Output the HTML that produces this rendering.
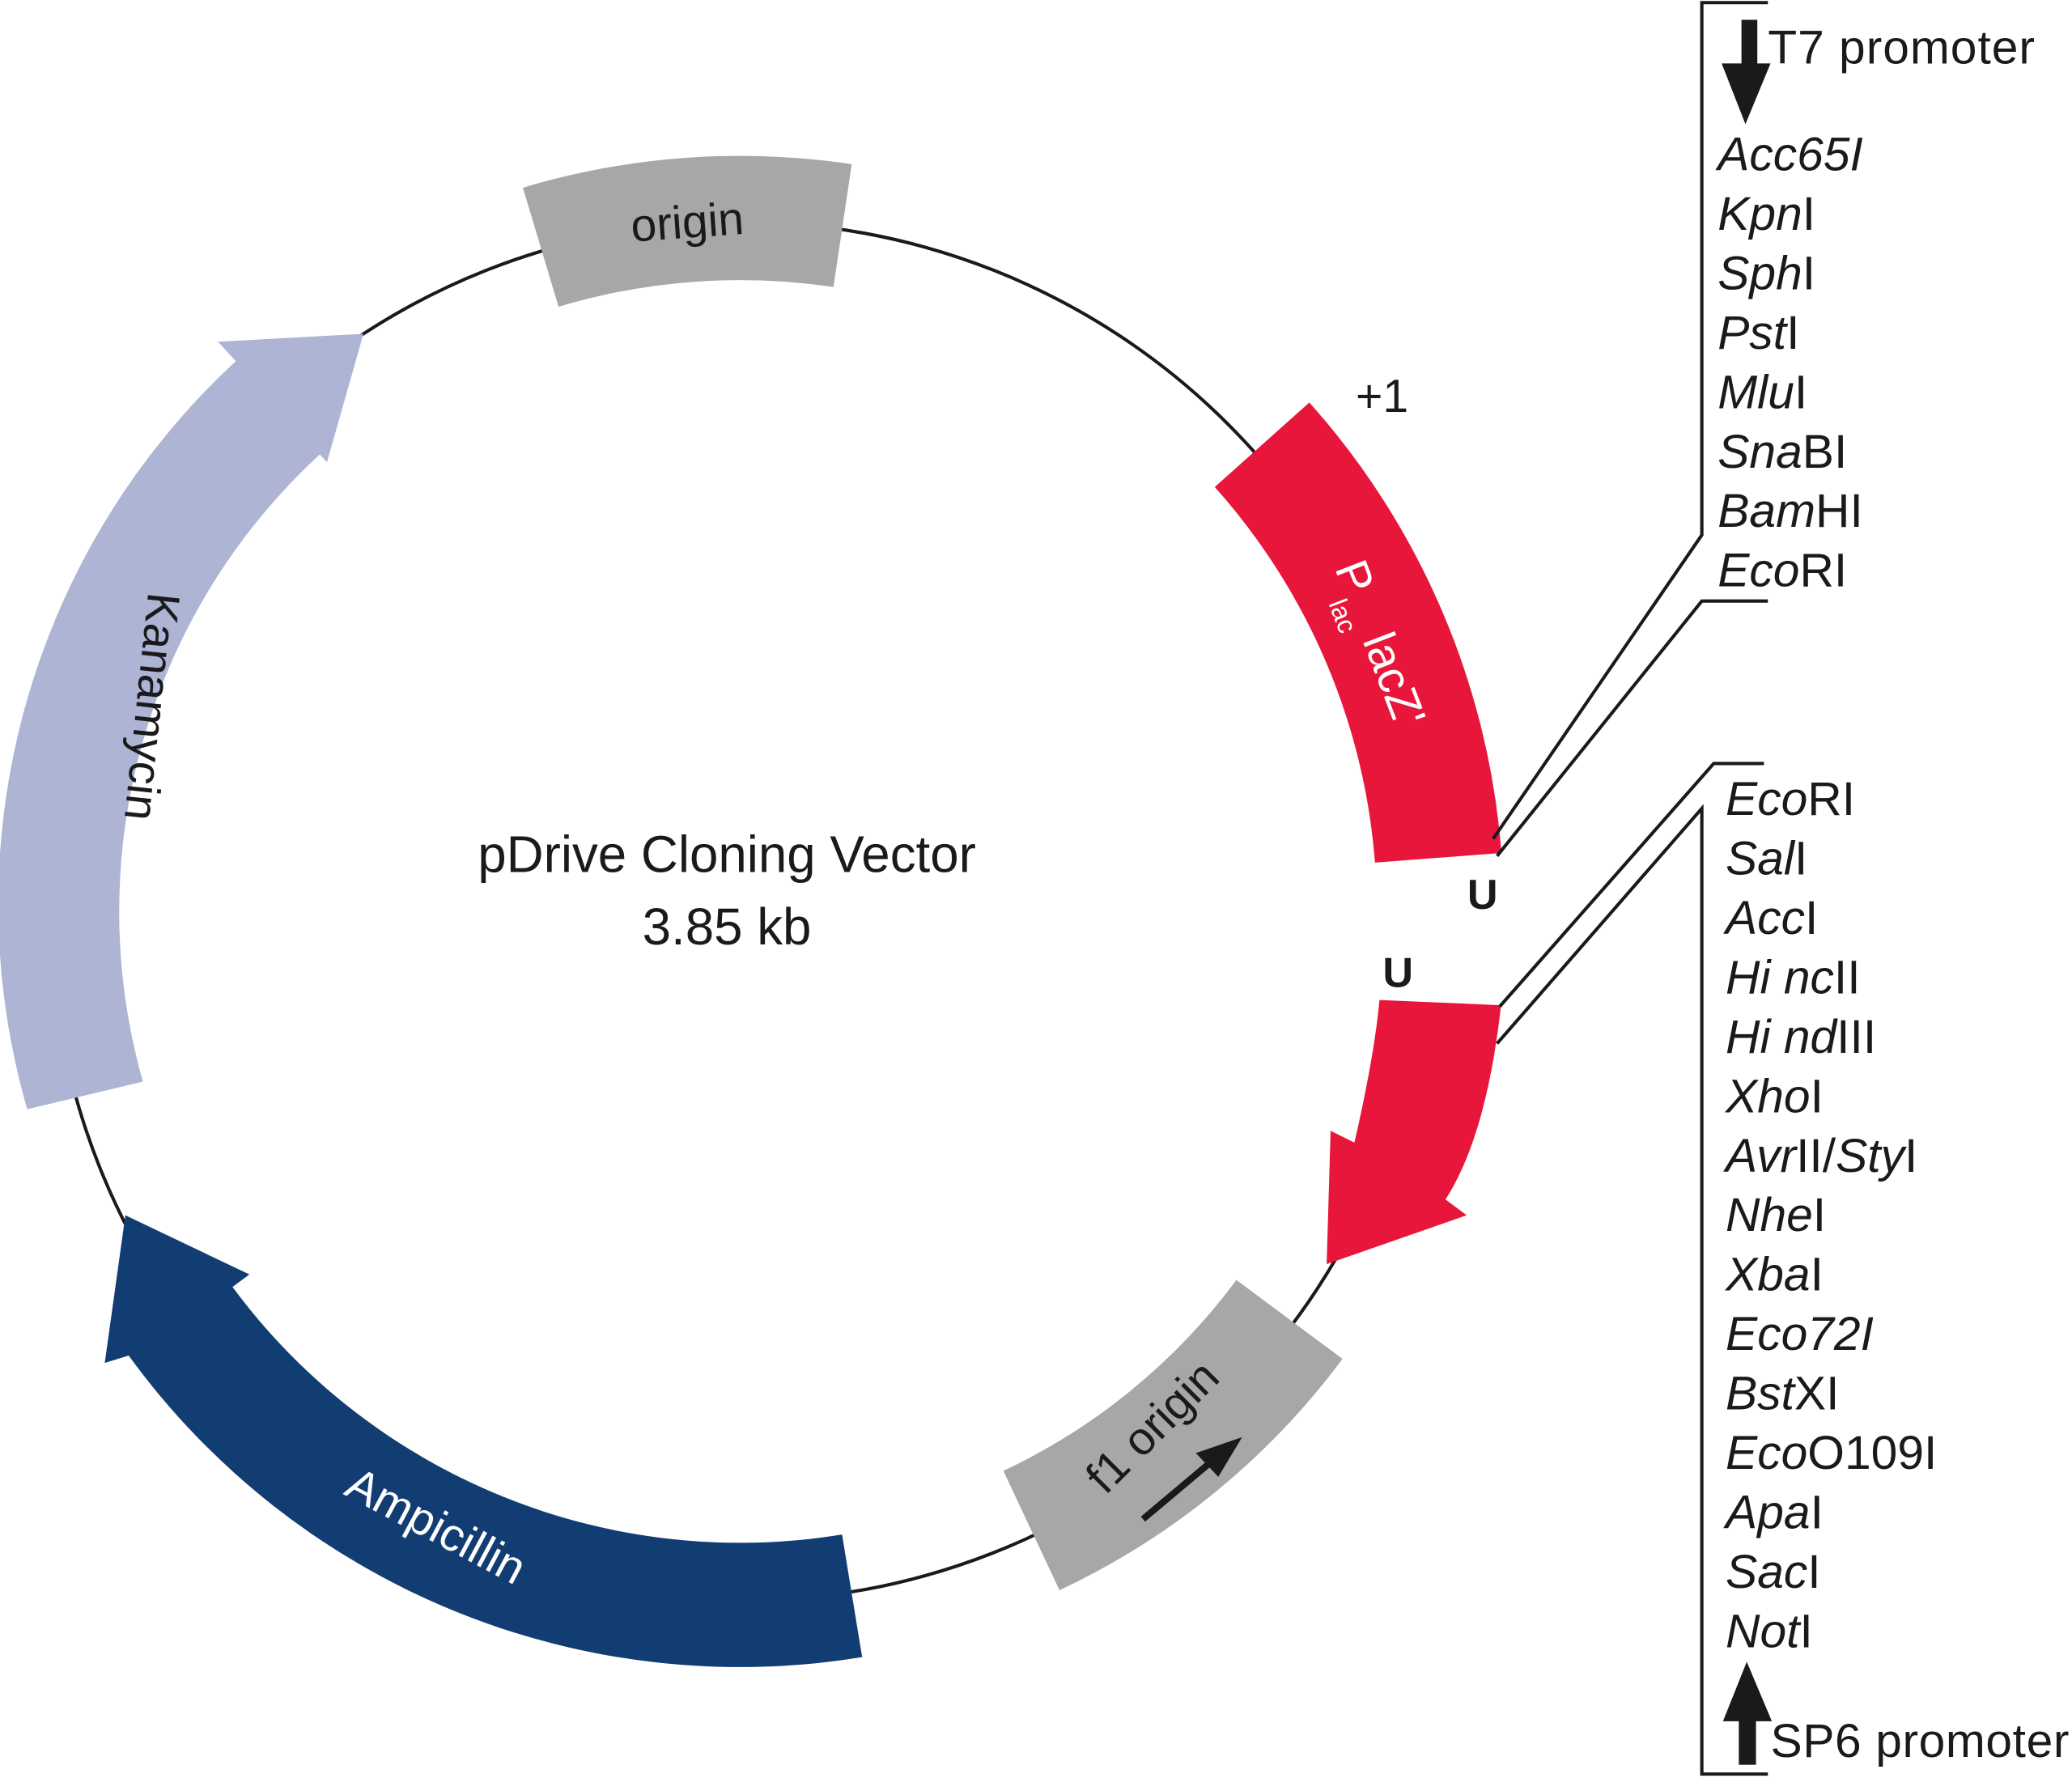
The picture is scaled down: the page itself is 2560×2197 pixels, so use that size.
<!DOCTYPE html>
<html><head><meta charset="utf-8"><style>
html,body{margin:0;padding:0;background:#fff;}
svg{display:block;}
text{font-family:"Liberation Sans",sans-serif;}
</style></head><body>
<svg id="s" width="2560" height="2197" viewBox="0 0 1568 1346" xmlns="http://www.w3.org/2000/svg">
<rect width="1568" height="1346" fill="#fff"/>
<circle cx="560" cy="690" r="522" fill="none" stroke="#1a1a1a" stroke-width="2.5"/>
<path id="gap" fill="none" stroke="#fff" stroke-width="8"/>
<path id="orig" fill="#a7a6a8"/>
<path id="plac" fill="#e8163a"/>
<path d="M1044,757 L1136,761 Q1125,860 1094,908 L1110,920 L1004,957 L1007,856 L1025,865 Q1040,800 1044,757 Z" fill="#e8163a"/>
<path id="f1" fill="#a7a6a8"/>
<path id="amp" fill="#123d73"/>
<path id="kan" fill="#adb4d4"/>

<g font-size="35" fill="#1a1a1a">
<text x="520" y="180" text-anchor="middle" transform="rotate(-4 520 168)">origin</text>
<text x="0" y="12" text-anchor="middle" transform="translate(115,535) rotate(96)">Kanamycin</text>
<text x="0" y="12" text-anchor="middle" fill="#fff" transform="translate(330,1155) rotate(28)">Ampicillin</text>
<text x="0" y="12" text-anchor="middle" transform="translate(872,1080) rotate(-45)">f1 origin</text>
<text x="0" y="0" fill="#fff" transform="translate(1010,430) rotate(69)">P<tspan font-size="20" dy="14">lac</tspan><tspan dy="-14"> lacZ'</tspan></text>
<text x="1026" y="312">+1</text>
<text x="1122" y="688" text-anchor="middle" font-weight="bold" font-size="32">U</text>
<text x="1058" y="747" text-anchor="middle" font-weight="bold" font-size="32">U</text>
<text x="550" y="660" text-anchor="middle" font-size="39">pDrive Cloning Vector</text>
<text x="550" y="715" text-anchor="middle" font-size="39">3.85 kb</text>
</g>
<line x1="865" y1="1150" x2="915" y2="1108" stroke="#1a1a1a" stroke-width="5"/>
<polygon points="940,1088 905,1100 922,1118" fill="#1a1a1a"/>

<g fill="none" stroke="#1a1a1a" stroke-width="2.5">
<polyline points="1338,2 1288,2 1288,405 1130,635"/>
<polyline points="1338,455 1288,455 1133,648"/>
<polyline points="1335,578 1297,578 1135,762"/>
<polyline points="1338,1343 1288,1343 1288,612 1133,790"/>
</g>
<rect x="1318" y="15" width="12" height="35" fill="#1a1a1a"/>
<polygon points="1303,48 1340,48 1321,94" fill="#1a1a1a"/>
<polygon points="1304,1303 1341,1303 1322,1258" fill="#1a1a1a"/>
<rect x="1316" y="1300" width="13" height="36" fill="#1a1a1a"/>

<g font-size="36" fill="#1a1a1a">
<text x="1338" y="48" textLength="202">T7 promoter</text>
<text x="1340" y="1330" textLength="226">SP6 promoter</text>
</g>
<g font-size="36" fill="#1a1a1a">
<text x="1300" y="129"><tspan font-style="italic">Acc65I</tspan></text>
<text x="1300" y="174"><tspan font-style="italic">Kpn</tspan>I</text>
<text x="1300" y="219"><tspan font-style="italic">Sph</tspan>I</text>
<text x="1300" y="264"><tspan font-style="italic">Pst</tspan>I</text>
<text x="1300" y="309"><tspan font-style="italic">Mlu</tspan>I</text>
<text x="1300" y="354"><tspan font-style="italic">Sna</tspan>BI</text>
<text x="1300" y="399"><tspan font-style="italic">Bam</tspan>HI</text>
<text x="1300" y="444"><tspan font-style="italic">Eco</tspan>RI</text>

<text x="1306" y="617"><tspan font-style="italic">Eco</tspan>RI</text>
<text x="1306" y="662"><tspan font-style="italic">Sal</tspan>I</text>
<text x="1306" y="707"><tspan font-style="italic">Acc</tspan>I</text>
<text x="1306" y="752"><tspan font-style="italic">Hi nc</tspan>II</text>
<text x="1306" y="797"><tspan font-style="italic">Hi nd</tspan>III</text>
<text x="1306" y="842"><tspan font-style="italic">Xho</tspan>I</text>
<text x="1306" y="887"><tspan font-style="italic">Avr</tspan>II/<tspan font-style="italic">Sty</tspan>I</text>
<text x="1306" y="932"><tspan font-style="italic">Nhe</tspan>I</text>
<text x="1306" y="977"><tspan font-style="italic">Xba</tspan>I</text>
<text x="1306" y="1022"><tspan font-style="italic">Eco72I</tspan></text>
<text x="1306" y="1067"><tspan font-style="italic">Bst</tspan>XI</text>
<text x="1306" y="1112"><tspan font-style="italic">Eco</tspan>O109I</text>
<text x="1306" y="1157"><tspan font-style="italic">Apa</tspan>I</text>
<text x="1306" y="1202"><tspan font-style="italic">Sac</tspan>I</text>
<text x="1306" y="1247"><tspan font-style="italic">Not</tspan>I</text>
</g>
</svg>
<script>
var cx=560,cy=690;
function P(r,a){var t=a*Math.PI/180;return (cx+r*Math.sin(t)).toFixed(1)+","+(cy-r*Math.cos(t)).toFixed(1);}
function band(r1,r2,a1,a2){var lg=(a2-a1)>180?1:0;
return "M"+P(r2,a1)+" A"+r2+","+r2+" 0 "+lg+" 1 "+P(r2,a2)+" L"+P(r1,a2)+" A"+r1+","+r1+" 0 "+lg+" 0 "+P(r1,a1)+" Z";}
document.getElementById("gap").setAttribute("d","M"+P(522,84)+" A522,522 0 0 1 "+P(522,99));
document.getElementById("orig").setAttribute("d",band(478,572,-16.7,8.5));
document.getElementById("plac").setAttribute("d",band(482,578,48.2,85.6));
document.getElementById("f1").setAttribute("d",band(468,568,126.6,154.8));
document.getElementById("amp").setAttribute("d",
 "M"+P(572,170.7)+" A572,572 0 0 1 "+P(572,234)+" L"+P(590,234.6)+" L"+P(519,243.7)+" L"+P(462,233.5)+" L"+P(478,233.5)+" A478,478 0 0 0 "+P(478,170.7)+" Z");
document.getElementById("kan").setAttribute("d",
 "M"+P(560,254.5)+" A560,560 0 0 1 "+P(565,317.5)+" L"+P(585,317.5)+" L"+P(522,326.9)+" L"+P(462,317.4)+" L"+P(470,317.4)+" A470,470 0 0 0 "+P(470,254.1)+" Z");
</script>
</body></html>
